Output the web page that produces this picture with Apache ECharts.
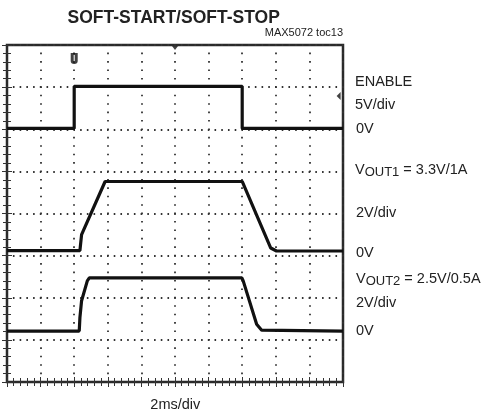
<!DOCTYPE html>
<html><head><meta charset="utf-8">
<script src="https://cdn.jsdelivr.net/npm/echarts@6/dist/echarts.min.js"></script>
<style>html,body{margin:0;padding:0;background:#fff}#c{width:487px;height:417px}</style>
</head><body><div id="c"></div>
<script>
// scope divisions: 10 horizontal (2ms/div), 8 vertical
const xDivs = [0, 10];
const yDivs = [0, 8];

// ENABLE trace (in screen divisions)
const enableX = [0, 2.0, 2.0, 7.0, 7.0, 10];
const enableY = [6.02, 6.02, 7.02, 7.02, 6.02, 6.02];

// VOUT1 trace
const vout1X = [0, 2.17, 2.22, 2.92, 7.0, 7.85, 8.02, 10];
const vout1Y = [3.12, 3.12, 3.5, 4.76, 4.76, 3.18, 3.11, 3.11];

// VOUT2 trace
const vout2X = [0, 2.15, 2.17, 2.22, 2.39, 2.45, 6.99, 7.03, 7.43, 7.58, 10];
const vout2Y = [1.21, 1.21, 1.53, 1.93, 2.40, 2.47, 2.47, 2.40, 1.37, 1.23, 1.21];

// scope markers: trigger position, center-of-screen, trigger level
const trigX = [2.0];  const trigY = [7.68];
const centerX = [5.0]; const centerY = [8.0];
const levelX = [9.87]; const levelY = [6.79];

const title = 'SOFT-START/SOFT-STOP';
const subTitle = 'MAX5072 toc13';
const xLabel = '2ms/div';

function pairs(xs, ys){ return xs.map((x,i)=>[x, ys[i]]); }

const chart = echarts.init(document.getElementById('c'), null, {renderer:'canvas'});

const axisCommon = {
  type:'value', min:0, interval:1,
  axisLine:{show:false},
  axisLabel:{show:false},
  axisTick:{show:true, inside:true, length:5, lineStyle:{color:'#333', width:1}},
  minorTick:{show:true, splitNumber:5, length:4, lineStyle:{color:'#333', width:1}},
};

const txt = (text, x, y, size, extra) => Object.assign({
  type:'text', x:x, y:y, silent:true,
  style:{text:text, font: (extra && extra.bold ? 'bold ' : '') + size + 'px "Liberation Sans", Arial, sans-serif',
    fill:'#222', align:(extra && extra.align)||'left', verticalAlign:'middle',
    textAlign:(extra && extra.align)||'left', textVerticalAlign:'middle'}
});

const richLabel = (main, sub, rest, x, y) => ({
  type:'text', x:x, y:y, silent:true,
  style:{
    text:'{a|' + main + '}{b|' + sub + '}{a|' + rest + '}',
    align:'left', verticalAlign:'middle', textAlign:'left', textVerticalAlign:'middle',
    rich:{
      a:{font:'14.5px "Liberation Sans", Arial, sans-serif', fill:'#222', color:'#222', verticalAlign:'top', lineHeight:18},
      b:{font:'13px "Liberation Sans", Arial, sans-serif', fill:'#222', color:'#222', verticalAlign:'top', lineHeight:18, padding:[4,0,0,0]}
    }
  }
});

const option = {
  animation:false,
  backgroundColor:'#fff',
  grid:{left:7, top:45, width:336, height:337, show:true, borderColor:'#2a2a2a', borderWidth:2.5, backgroundColor:'transparent'},
  xAxis:[
    Object.assign({}, axisCommon, {position:'bottom', max:xDivs[1], min:xDivs[0],
      splitLine:{show:true, lineStyle:{color:'#333', width:1.8, type:[1.6, 6.82], dashOffset:0.8}}}),
    Object.assign({}, axisCommon, {position:'top', max:xDivs[1], min:xDivs[0], splitLine:{show:false}})
  ],
  yAxis:[
    Object.assign({}, axisCommon, {position:'left', max:yDivs[1], min:yDivs[0],
      splitLine:{show:true, lineStyle:{color:'#333', width:1.8, type:[1.6, 5.12], dashOffset:0.8}}}),
    Object.assign({}, axisCommon, {position:'right', max:yDivs[1], min:yDivs[0], splitLine:{show:false}})
  ],
  series:[
    {type:'line', data:pairs(enableX, enableY), showSymbol:false, symbol:'none', lineStyle:{color:'#111', width:3.2}, z:5},
    {type:'line', data:pairs(vout1X, vout1Y), showSymbol:false, symbol:'none', lineStyle:{color:'#111', width:3.2}, z:5},
    {type:'line', data:pairs(vout2X, vout2Y), showSymbol:false, symbol:'none', lineStyle:{color:'#111', width:3.2}, z:5},
    {type:'scatter', data:pairs(trigX, trigY), symbol:'path://M0,0 H7 V8 Q7,11 3.5,11 Q0,11 0,8 Z M3,2 V9 H4 V2 Z', symbolSize:[7,11], itemStyle:{color:'#111'}, z:6},
    {type:'scatter', data:pairs(centerX, centerY), symbol:'path://M0,0 H6 L3,4 Z', symbolSize:[6,4], symbolOffset:[0,3], itemStyle:{color:'#111'}, z:6},
    {type:'scatter', data:pairs(levelX, levelY), symbol:'path://M4,0 V8 L0,4 Z', symbolSize:[4,8], itemStyle:{color:'#111'}, z:6}
  ],
  graphic:[
    txt(title, 173.7, 18.5, 17.5, {bold:true, align:'center'}),
    txt(subTitle, 343, 32.5, 11, {align:'right'}),
    txt('ENABLE', 355, 82, 14.5),
    txt('5V/div', 355, 105, 14.5),
    txt('0V', 356, 128.5, 14.5),
    richLabel('V', 'OUT1', ' = 3.3V/1A', 355, 171),
    txt('2V/div', 356, 213, 14.5),
    txt('0V', 356, 252.5, 14.5),
    richLabel('V', 'OUT2', ' = 2.5V/0.5A', 356, 280),
    txt('2V/div', 356, 302.5, 14.5),
    txt('0V', 356, 331, 14.5),
    txt(xLabel, 175.3, 405, 14.5, {align:'center'})
  ]
};
chart.setOption(option);
</script>
</body></html>
